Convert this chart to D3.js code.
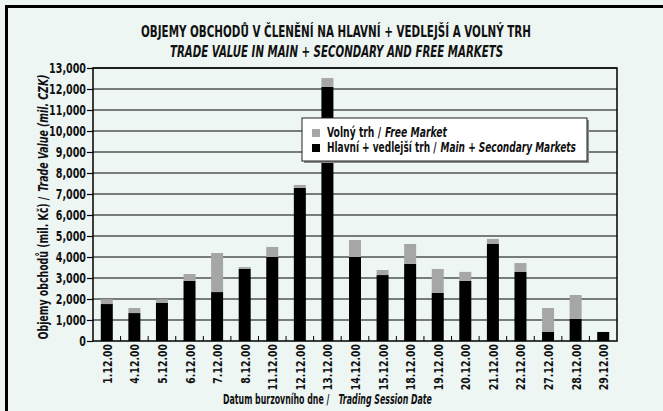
<!DOCTYPE html>
<html>
<head>
<meta charset="utf-8">
<script src="https://cdn.jsdelivr.net/npm/d3@7"></script>
<style>
  body { margin: 0; background: #eef6f4; }
  svg text { font-family: "DejaVu Sans Condensed", "DejaVu Sans", sans-serif; font-stretch: condensed; font-weight: bold; fill: #111; }
</style>
</head>
<body>
<div id="chart"></div>
<script>
var width = 663,
    height = 411;

// data (mil. CZK)
var dates = ["1.12.00", "4.12.00", "5.12.00", "6.12.00", "7.12.00", "8.12.00", "11.12.00",
             "12.12.00", "13.12.00", "14.12.00", "15.12.00", "18.12.00", "19.12.00", "20.12.00",
             "21.12.00", "22.12.00", "27.12.00", "28.12.00", "29.12.00"];
var mainMarket = [1760, 1330, 1810, 2870, 2330, 3430, 4000, 7290, 12100, 4000, 3140, 3670,
                  2290, 2860, 4620, 3290, 430, 1050, 430];
var freeMarket = [230, 240, 180, 320, 1860, 90, 480, 140, 420, 810, 240, 950,
                  1140, 430, 240, 420, 1140, 1140, 0];
var yTicks = d3.range(0, 13001, 1000);

var margin = {top: 68, right: 46, bottom: 70, left: 93};
var plotW = width - margin.left - margin.right,
    plotH = height - margin.top - margin.bottom;

// squeeze text to the narrow look of the original typeface
function fit(sel, w) {
  sel.attr("textLength", w).attr("lengthAdjust", "spacingAndGlyphs");
}
function squeeze(sel, k) {
  sel.each(function() {
    var len = this.getComputedTextLength();
    d3.select(this).attr("textLength", len * k).attr("lengthAdjust", "spacingAndGlyphs");
  });
}
// upright part + gap + italic part, scaled horizontally into width w starting at x0
function twoPart(parent, x0, y0, size, upright, italic, w, gap) {
  var ga = parent.append("g"), gb = parent.append("g");
  var a = ga.append("text").style("font-size", size).text(upright);
  var b = gb.append("text").style("font-size", size).style("font-style", "italic").text(italic);
  var la = a.node().getComputedTextLength(), lb = b.node().getComputedTextLength();
  var k = (w - gap) / (la + lb);
  ga.attr("transform", "translate(" + x0 + "," + y0 + ") scale(" + k + ",1)");
  gb.attr("transform", "translate(" + (x0 + la * k + gap) + "," + y0 + ") scale(" + k + ",1)");
}

var svg = d3.select("#chart").append("svg")
    .attr("width", width)
    .attr("height", height);

svg.append("rect").attr("width", width).attr("height", height).attr("fill", "#eef6f4");

// frame (only top and left edges are visible)
svg.append("path")
    .attr("d", "M6.5," + height + " L6.5,6.5 L" + width + ",6.5")
    .attr("fill", "none").attr("stroke", "#000").attr("stroke-width", 3);

// titles
svg.append("text").attr("x", 336).attr("y", 37).attr("text-anchor", "middle")
    .style("font-size", "15px")
    .text("OBJEMY OBCHODŮ V ČLENĚNÍ NA HLAVNÍ + VEDLEJŠÍ A VOLNÝ TRH")
    .call(fit, 390);
svg.append("text").attr("x", 336.5).attr("y", 57).attr("text-anchor", "middle")
    .style("font-size", "15px").style("font-style", "italic")
    .text("TRADE VALUE IN MAIN + SECONDARY AND FREE MARKETS")
    .call(fit, 333);

var g = svg.append("g").attr("transform", "translate(" + margin.left + "," + margin.top + ")");

var x = d3.scaleBand().domain(dates).range([0, plotW]).paddingInner(0.565).paddingOuter(0.2825);
var xEdge = d3.scaleBand().domain(dates).range([0, plotW]).padding(0);
var y = d3.scaleLinear().domain([0, 13000]).range([plotH, 0]);

// gridlines
g.append("g").selectAll("line").data(yTicks.slice(1)).enter().append("line")
    .attr("x1", 0).attr("x2", plotW)
    .attr("y1", function(d) { return y(d); }).attr("y2", function(d) { return y(d); })
    .attr("stroke", "#000").attr("stroke-width", 1.2);

// stacked bars
var bars = g.append("g");
bars.selectAll(".main").data(dates).enter().append("rect")
    .attr("x", function(d) { return x(d); })
    .attr("width", x.bandwidth())
    .attr("y", function(d, i) { return y(mainMarket[i]); })
    .attr("height", function(d, i) { return plotH - y(mainMarket[i]); })
    .attr("fill", "#000");
bars.selectAll(".free").data(dates).enter().append("rect")
    .attr("x", function(d) { return x(d); })
    .attr("width", x.bandwidth())
    .attr("y", function(d, i) { return y(mainMarket[i] + freeMarket[i]); })
    .attr("height", function(d, i) { return y(mainMarket[i]) - y(mainMarket[i] + freeMarket[i]); })
    .attr("fill", "#a6a6a6");

// small ticks between the bars
g.append("g").selectAll("line").data(dates.slice(1)).enter().append("line")
    .attr("x1", function(d) { return xEdge(d); }).attr("x2", function(d) { return xEdge(d); })
    .attr("y1", plotH).attr("y2", plotH - 5)
    .attr("stroke", "#000").attr("stroke-width", 1);

// plot frame
g.append("rect").attr("width", plotW).attr("height", plotH)
    .attr("fill", "none").attr("stroke", "#000").attr("stroke-width", 1.5);

// y axis
var yAxis = g.append("g").call(d3.axisLeft(y).tickValues(yTicks).tickSize(6).tickPadding(1)
    .tickFormat(d3.format(",")));
yAxis.select(".domain").remove();
yAxis.selectAll("line").attr("stroke", "#000").attr("stroke-width", 1.2);
yAxis.selectAll("text").style("font-size", "14px").style("font-family", null).attr("fill", null)
    .call(squeeze, 0.76);

// x labels
g.append("g").selectAll("text").data(dates).enter().append("text")
    .attr("transform", function(d) {
      return "translate(" + (x(d) + x.bandwidth() / 2 + 5) + "," + (plotH + 3) + ") rotate(-90)";
    })
    .attr("text-anchor", "end")
    .style("font-size", "13px")
    .text(function(d) { return d; })
    .call(squeeze, 0.8);

// axis titles
var ytG = svg.append("g").attr("transform", "translate(48,207) rotate(-90)");
twoPart(ytG, -132.5, 0, "14px", "Objemy obchodů (mil. Kč) /", "Trade Value (mil. CZK)", 265, 5);

twoPart(svg, 223, 404, "14px", "Datum burzovního dne /", "Trading Session Date", 209, 9);

// legend
var legendItems = [
  {label: "Volný trh /", en: "Free Market", color: "#a6a6a6", w: 120},
  {label: "Hlavní + vedlejší trh /", en: "Main + Secondary Markets", color: "#000", w: 249}
];
var lg = svg.append("g").attr("transform", "translate(302,118)");
lg.append("rect").attr("x", 2).attr("y", 2).attr("width", 285).attr("height", 43).attr("fill", "#8a8a8a");
lg.append("rect").attr("width", 285).attr("height", 43).attr("fill", "#fff")
    .attr("stroke", "#222").attr("stroke-width", 1);
var li = lg.selectAll(".item").data(legendItems).enter().append("g")
    .attr("transform", function(d, i) { return "translate(10," + (10 + i * 15) + ")"; });
li.append("rect").attr("width", 8).attr("height", 8).attr("y", 1).attr("fill", function(d) { return d.color; });
li.each(function(d) { twoPart(d3.select(this), 15, 9, "14px", d.label, d.en, d.w, 4); });
</script>
</body>
</html>
